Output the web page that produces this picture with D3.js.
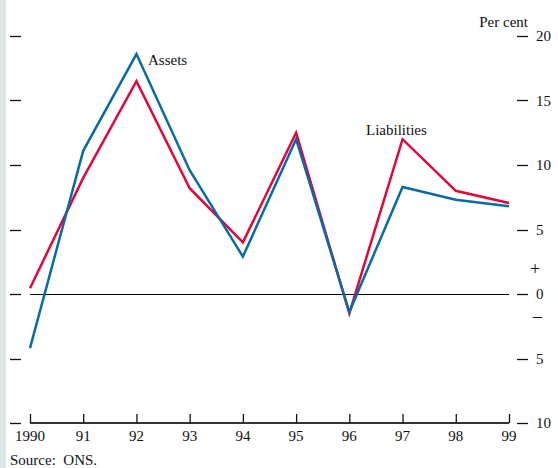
<!DOCTYPE html>
<html><head><meta charset="utf-8">
<script src="https://cdn.jsdelivr.net/npm/d3@7"></script>
<style>body{margin:0;background:#fff}svg{display:block}text{font-family:"Liberation Serif","Times New Roman",serif;fill:#111;white-space:pre}</style>
</head><body>
<script>
const years = [1990,1991,1992,1993,1994,1995,1996,1997,1998,1999];
const yearLabels = ["1990","91","92","93","94","95","96","97","98","99"];
const assets = [-4.2,11.1,18.6,9.6,2.9,12.0,-1.4,8.3,7.3,6.8];
const liabilities = [0.45,9.0,16.5,8.2,4.0,12.5,-1.5,12.0,8.0,7.05];
const yTicks = [20,15,10,5,0,-5,-10];

const W=558,H=468;
const svg=d3.select("body").append("svg").attr("width",W).attr("height",H);
svg.append("rect").attr("x",0).attr("y",0).attr("width",6).attr("height",H).attr("fill","#dce7e7");

const x=d3.scaleLinear().domain([1990,1999]).range([30,509]);
const y=d3.scaleLinear().domain([-10,20]).range([423,36]);

yTicks.forEach(t=>{
  const yy=Math.round(y(t))+0.5;
  svg.append("line").attr("x1",10).attr("x2",21).attr("y1",yy).attr("y2",yy).attr("stroke","#111").attr("stroke-width",1.3);
  svg.append("line").attr("x1",517).attr("x2",528).attr("y1",yy).attr("y2",yy).attr("stroke","#111").attr("stroke-width",1.3);
  svg.append("text").attr("x",536).attr("y",y(t)+5).attr("font-size",15).text(Math.abs(t));
});
svg.append("text").attr("x",528).attr("y",27).attr("text-anchor","end").attr("font-size",15).text("Per cent");
svg.append("text").attr("x",530).attr("y",275).attr("font-size",18).text("+");
svg.append("text").attr("x",533).attr("y",322).attr("font-size",18).text("\u2013");

const xAxis=d3.axisTop(x).tickValues(years).tickSize(9).tickFormat("");
const gx=svg.append("g").attr("transform",`translate(0,${y(-10)})`).call(xAxis);
gx.select(".domain").attr("stroke","#333").attr("stroke-width",2).attr("d",`M${x(1990)},0H${x(1999)}`);
gx.selectAll(".tick line").attr("stroke","#111").attr("stroke-width",1.3);
years.forEach((yr,i)=>{
  svg.append("text").attr("x",x(yr)).attr("y",441).attr("text-anchor","middle").attr("font-size",15).text(yearLabels[i]);
});

svg.append("line").attr("x1",x(1990)).attr("x2",x(1999)).attr("y1",Math.round(y(0))+0.5).attr("y2",Math.round(y(0))+0.5).attr("stroke","#000").attr("stroke-width",1.2).attr("shape-rendering","crispEdges");

const line=d3.line().x((d,i)=>x(years[i])).y(d=>y(d));
svg.append("path").datum(liabilities).attr("d",line).attr("fill","none").attr("stroke","#e2063c").attr("stroke-width",2.5).attr("stroke-linejoin","miter");
svg.append("path").datum(assets).attr("d",line).attr("fill","none").attr("stroke","#0a6aa8").attr("stroke-width",2.5).attr("stroke-linejoin","miter");

svg.append("text").attr("x",148).attr("y",65).attr("font-size",15).text("Assets");
svg.append("text").attr("x",366).attr("y",135).attr("font-size",15).text("Liabilities");
svg.append("text").attr("x",10).attr("y",465).attr("font-size",15).text("Source:  ONS.");
</script>
</body></html>
